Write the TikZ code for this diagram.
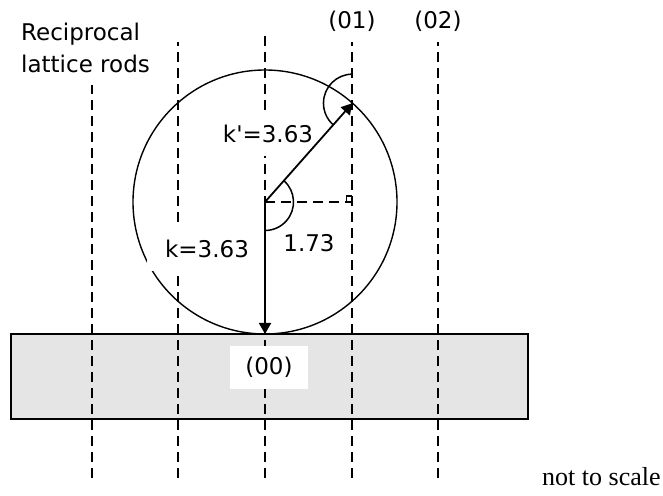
\documentclass[tikz,border=0pt]{standalone}
\usepackage{fontspec}
\setmainfont{DejaVu Sans}
\newfontfamily\timesfont{Liberation Serif}
\usetikzlibrary{arrows.meta}

\begin{document}
\begin{tikzpicture}[
  x=1pt, y=1pt,
  font=\fontsize{23}{32}\selectfont,
  txt/.style={inner sep=0pt},
  rod/.style={dash pattern=on 10pt off 6pt, line width=1.6pt},
  lbl/.style={fill=white, inner xsep=11pt, inner ysep=0pt, minimum height=43pt},
  ar/.style={line width=1.8pt, -{Triangle[length=11pt, width=12pt]}},
  ang/.style={line width=1.5pt}
]
\useasboundingbox (0,0) rectangle (663,495);
\draw[line width=1.8pt, fill=black!10] (11,76) rectangle (528,161);
\foreach \x/\top [count=\i] in {92/410, 178/453, 265/462, 352/453, 438/453}
  \draw[rod] (\x,17) coordinate (rb\i) -- (\x,\top) coordinate (rt\i);
\coordinate (O) at (265,293);
\coordinate (kp) at ([shift={(48.5:132)}]O);
\coordinate (bot) at (265,161);
\coordinate (foot) at (O -| kp);
\draw[line width=1.4pt] (O) circle[radius=132];
\draw[rod] (O) -- (foot);
\draw[line width=1.2pt] ([xshift=-6pt]foot) -- ++(0,6) -- ++(6,0);
\node[lbl, anchor=base] (kplab) at (268,352) {k\textquotesingle=3.63};
\node[lbl, inner xsep=18pt, anchor=base] (klab) at (207,237) {k=3.63};
\node[txt, anchor=base] (dlab) at (309,243) {1.73};
\node[lbl, inner xsep=15pt, anchor=base] (g00) at (269,120) {(00)};
\node[txt, anchor=base] (g01) at (352,466) {(01)};
\node[txt, anchor=base] (g02) at (438,466) {(02)};
\node[txt, anchor=base west] (rec1) at (21,454) {Reciprocal};
\node[txt, anchor=base west] (rec2) at (21,422) {lattice rods};
\node[txt, anchor=base west, font=\timesfont\fontsize{26}{30}\selectfont] (nts) at (542,10) {not to scale};
\draw[ang] ([shift={(48.5:28.5)}]O) arc[start angle=48.5, end angle=-90, radius=28.5];
\draw[ang] ([shift={(90:29)}]kp) arc[start angle=90, end angle=228.5, radius=29];
\draw[ar] (O) -- (kp);
\draw[ar] (O) -- (bot);
\end{tikzpicture}
\end{document}
